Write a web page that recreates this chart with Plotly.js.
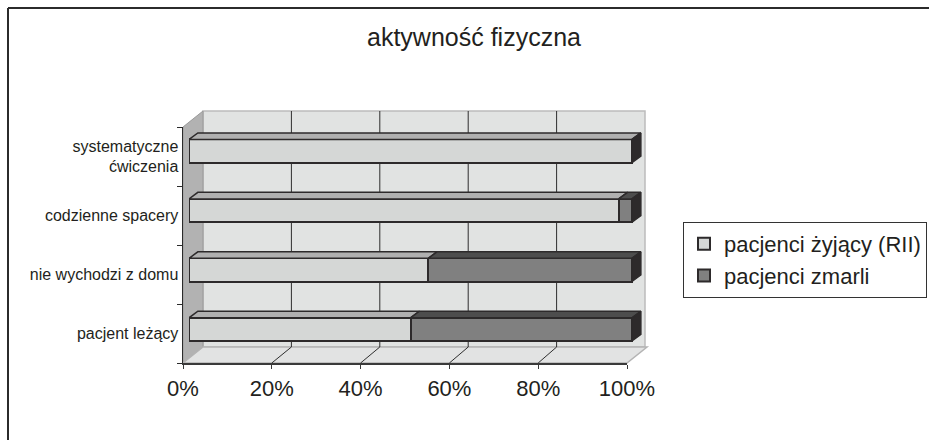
<!DOCTYPE html>
<html>
<head>
<meta charset="utf-8">
<script src="https://cdn.plot.ly/plotly-3.0.1.min.js"></script>
<style>html,body{margin:0;padding:0;background:#fff;}#chart{width:929px;height:440px;}</style>
</head>
<body>
<div id="chart"></div>
<script>
// ---- data ----
const categories = ['pacjent leżący', 'nie wychodzi z domu', 'codzienne spacery', 'systematyczne<br>ćwiczenia'];
const alive = [50, 54, 97, 100];   // pacjenci żyjący (RII), %
const dead  = [50, 46, 3, 0];      // pacjenci zmarli, %
const xTicks = [0, 20, 40, 60, 80, 100];
const seriesNames = ['pacjenci żyjący (RII)', 'pacjenci zmarli'];

// ---- styling ----
const W = 929, H = 440;
const X = p => p / W;
const Y = p => 1 - p / H;
const FONT = 'Liberation Sans, Arial, Helvetica, sans-serif';
const TXT = '#231f20';
const EDGE = '#2d2a2b';
const C_ALIVE = '#d5d7d6', C_DEAD = '#808080';
const C_ALIVE_TOP = '#b0b0b0', C_DEAD_TOP = '#4d4d4d', C_CAP = '#2d2a2b';

const barW = 0.39, dX = 2.0, dY = 0.11;
const yIdx = categories.map((_, i) => i);

const traces = [];
traces.push({
  type: 'bar', orientation: 'h', name: seriesNames[0],
  x: alive, y: yIdx, width: barW, xaxis: 'x', yaxis: 'y',
  marker: {color: C_ALIVE, line: {color: EDGE, width: 2}},
  hovertext: categories, hoverinfo: 'x+text+name'
});
traces.push({
  type: 'bar', orientation: 'h', name: seriesNames[1],
  x: dead, y: yIdx, width: barW, xaxis: 'x', yaxis: 'y',
  marker: {color: C_DEAD, line: {color: EDGE, width: 2}},
  hovertext: categories, hoverinfo: 'x+text+name'
});

// 3D top faces and end caps derived from the data
function topFaces(starts, lens) {
  const xs = [], ys = [];
  yIdx.forEach(i => {
    const a = starts[i], b = starts[i] + lens[i];
    if (lens[i] <= 0) return;
    const t = i + barW / 2;
    xs.push(a, b, b + dX, a + dX, a, null);
    ys.push(t, t, t + dY, t + dY, t, null);
  });
  return {xs, ys};
}
const tA = topFaces(alive.map(() => 0), alive);
const tD = topFaces(alive, dead);
const capX = [], capY = [];
yIdx.forEach(i => {
  const e = alive[i] + dead[i];
  const lo = i - barW / 2, hi = i + barW / 2;
  capX.push(e, e + dX, e + dX, e, e, null);
  capY.push(lo, lo + dY, hi + dY, hi, lo, null);
});
[[tA, C_ALIVE_TOP], [tD, C_DEAD_TOP], [{xs: capX, ys: capY}, C_CAP]].forEach(([f, c]) => {
  traces.push({
    type: 'scatter', mode: 'lines', x: f.xs, y: f.ys, fill: 'toself', fillcolor: c,
    line: {color: EDGE, width: 1.5}, xaxis: 'x', yaxis: 'y',
    showlegend: false, hoverinfo: 'skip', connectgaps: false
  });
});

// invisible trace carrying the front (label) axes
traces.push({
  type: 'scatter', mode: 'markers', x: categories.map(() => 0), y: categories,
  xaxis: 'x2', yaxis: 'y2', marker: {opacity: 0}, showlegend: false, hoverinfo: 'skip'
});

// ---- 3D box decoration (walls, floor, gridlines) ----
const shapes = [];
const wallL = 203, wallR = 645, wallT = 111, wallB = 347;
const frontL = 183, frontR = 627, frontB = 363, frontT = 127;
shapes.push({type: 'rect', xref: 'paper', yref: 'paper', layer: 'below',
  x0: X(wallL), x1: X(wallR), y0: Y(wallB), y1: Y(wallT),
  fillcolor: '#e1e3e2', line: {color: '#bcbcbc', width: 1.5}});
shapes.push({type: 'path', xref: 'paper', yref: 'paper', layer: 'below',
  path: `M ${X(frontL)},${Y(frontT)} L ${X(wallL)},${Y(wallT)} L ${X(wallL)},${Y(wallB)} L ${X(frontL)},${Y(frontB)} Z`,
  fillcolor: '#b2b2b2', line: {color: '#9a9a9a', width: 1}});
shapes.push({type: 'path', xref: 'paper', yref: 'paper', layer: 'below',
  path: `M ${X(frontL)},${Y(frontB)} L ${X(frontR)},${Y(frontB)} L ${X(wallR + 2)},${Y(wallB)} L ${X(wallL)},${Y(wallB)} Z`,
  fillcolor: '#e2e3e3', line: {color: '#b4b4b4', width: 1.5}});
xTicks.forEach((t, k) => {
  if (t === 0 || t === 100) return;
  const wx = wallL + (wallR - wallL) * t / 100;
  const fx = frontL + (frontR - frontL) * t / 100;
  shapes.push({type: 'line', xref: 'paper', yref: 'paper', layer: 'below',
    x0: X(wx), x1: X(wx), y0: Y(wallB), y1: Y(wallT), line: {color: '#2e2e2e', width: 1}});
  shapes.push({type: 'line', xref: 'paper', yref: 'paper', layer: 'below',
    x0: X(fx), x1: X(wx), y0: Y(frontB), y1: Y(wallB), line: {color: '#2e2e2e', width: 1}});
});
// outer frame
shapes.push({type: 'line', xref: 'paper', yref: 'paper', x0: X(8), x1: 1.02, y0: Y(8), y1: Y(8), line: {color: '#2b2b2b', width: 2}});
shapes.push({type: 'line', xref: 'paper', yref: 'paper', x0: X(8), x1: X(8), y0: Y(8), y1: -0.02, line: {color: '#2b2b2b', width: 2}});

const layout = {
  width: W, height: H,
  margin: {l: 0, r: 0, t: 0, b: 0, autoexpand: false},
  paper_bgcolor: '#ffffff', plot_bgcolor: 'rgba(0,0,0,0)',
  font: {family: FONT, color: TXT, size: 16},
  barmode: 'stack', bargap: 0,
  showlegend: true,
  title: {text: 'aktywność fizyczna', x: X(474), xref: 'paper', xanchor: 'center',
          y: Y(37), yref: 'paper', yanchor: 'middle', font: {size: 25, family: FONT, color: TXT}},
  xaxis: {domain: [X(189), X(189 + 4.43 * 110)], range: [0, 110], visible: false, fixedrange: true},
  yaxis: {domain: [Y(359.1), Y(121.3)], range: [-0.5, 3.5], visible: false, fixedrange: true},
  xaxis2: {domain: [X(frontL), X(frontR)], range: [0, 100], anchor: 'y2',
           tickvals: xTicks, ticktext: xTicks.map(v => v + '%'),
           showgrid: false, zeroline: false, showline: true, linecolor: '#3a3a3a', linewidth: 1.5,
           ticks: 'outside', ticklen: 4, tickcolor: '#3a3a3a', ticklabelstandoff: 1,
           tickfont: {size: 22, family: FONT, color: TXT}, fixedrange: true},
  yaxis2: {domain: [Y(frontB), Y(frontT)], type: 'category', categoryorder: 'array', categoryarray: categories,
           range: [-0.5, 3.5], anchor: 'x2', showgrid: false, zeroline: false,
           showline: true, linecolor: '#2b2b2b', linewidth: 1.5,
           ticks: 'outside', tickson: 'boundaries', ticklen: 5, tickcolor: '#2b2b2b',
           tickfont: {size: 16, family: FONT, color: TXT}, fixedrange: true},
  legend: {x: X(683), y: Y(222), xanchor: 'left', yanchor: 'top', xref: 'paper', yref: 'paper',
           bgcolor: '#ffffff', bordercolor: '#333333', borderwidth: 1,
           font: {size: 22, family: FONT, color: TXT}, traceorder: 'normal', itemwidth: 30},
  shapes: shapes
};

Plotly.newPlot('chart', traces, layout, {displayModeBar: false, staticPlot: true});
</script>
</body>
</html>
